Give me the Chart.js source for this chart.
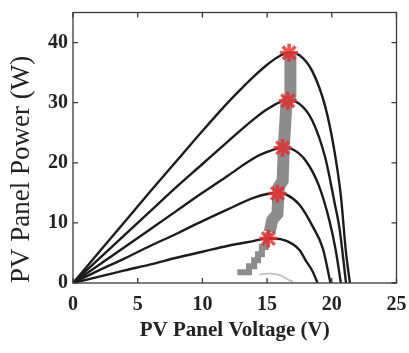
<!DOCTYPE html>
<html>
<head>
<meta charset="utf-8">
<script src="https://cdn.jsdelivr.net/npm/chart.js@4.4.1/dist/chart.umd.min.js"></script>
<style>
  html, body { margin: 0; padding: 0; background: #fff; }
  #wrap { width: 409px; height: 353px; }
</style>
</head>
<body>
<div id="wrap"><canvas id="pvChart"></canvas></div>
<script>
// ── Axis ticks ──────────────────────────────
const xTicks = [0, 5, 10, 15, 20, 25];
const yTicks = [0, 10, 20, 30, 40];

// ── P-V curves, one per irradiance level ────
const volt1 = [0, 2, 4, 6, 8, 10, 12, 13, 14, 15, 16, 16.7, 17.5, 18.5, 19.5, 20.2, 20.7, 21.1, 21.4];
const power1 = [0, 5.1, 10.2, 15.3, 20.3, 25.3, 30.1, 32.3, 34.4, 36.3, 37.8, 38.3, 37.9, 35.2, 29.3, 22, 14.5, 5, 0];

const volt2 = [0, 2, 4, 6, 8, 10, 12, 14, 15, 16, 16.6, 17.5, 18.5, 19.5, 20.2, 20.6, 21.1];
const power2 = [0, 4.0, 8.0, 12.0, 16.0, 19.8, 23.6, 27.3, 28.9, 30.1, 30.4, 29.8, 27.0, 20.8, 13.5, 9, 0];

const volt3 = [0, 2, 4, 6, 8, 10, 12, 14, 15, 16.2, 17, 18, 19, 19.8, 20.3, 20.7];
const power3 = [0, 3.0, 6.0, 9.0, 12.0, 15.0, 17.9, 20.8, 21.8, 22.5, 22.2, 20.3, 16.2, 10.5, 5.5, 0];

const volt4 = [0, 2, 4, 6, 8, 10, 12, 14, 15, 15.8, 16.5, 17.5, 18.5, 19.3, 19.9];
const power4 = [0, 2.1, 4.1, 6.2, 8.2, 10.3, 12.3, 14.2, 14.8, 15.0, 14.7, 13.0, 9.5, 5.8, 0];

const volt5 = [0, 2, 4, 6, 8, 10, 12, 14, 15, 15.5, 16.5, 17.5, 18, 18.5, 18.9];
const power5 = [0, 1.05, 2.1, 3.1, 4.2, 5.2, 6.2, 7.0, 7.4, 7.4, 7.0, 5.5, 3.7, 2.0, 0];

// faint lowest-irradiance curve
const voltFaint = [14.4, 15.2, 16.0, 16.6, 17.0];
const powerFaint = [1.4, 1.6, 1.3, 0.6, 0.2];

// ── Maximum power points ────────────────────
const mppVolt = [16.7, 16.6, 16.2, 15.8, 15.1];
const mppPower = [38.3, 30.3, 22.5, 14.9, 7.4];

// ── MPPT tracking trace ─────────────────────
const trackLowVolt = [12.7, 13.6, 13.6, 14.0, 14.0, 14.3, 14.3, 14.6, 14.6, 14.9, 14.9, 15.2];
const trackLowPower = [1.8, 1.8, 2.8, 2.8, 3.8, 3.8, 4.8, 4.8, 6.0, 6.0, 7.4, 8.5];
const trackHighVolt = [15.2, 15.4, 15.8, 15.9, 16.2, 16.3, 16.5, 16.8, 16.8];
const trackHighPower = [8.5, 10.5, 11.5, 16, 17, 23, 30, 31, 38.3];

const pts = (xs, ys) => xs.map((x, i) => ({ x, y: ys[i] }));

const curveStyle = {
    showLine: true,
    borderColor: "#1c1c1c",
    borderWidth: 2.4,
    pointRadius: 0,
    cubicInterpolationMode: "monotone",
    order: 3
};

const frameTicks = {
    id: "frameTicks",
    afterDraw(chart) {
        const { ctx, chartArea: a, scales: { x, y } } = chart;
        const len = 5;
        ctx.save();
        ctx.strokeStyle = "#3a3a3a";
        ctx.lineWidth = 1.3;
        ctx.strokeRect(a.left, a.top, a.right - a.left, a.bottom - a.top);
        ctx.beginPath();
        xTicks.forEach((v) => {
            const px = x.getPixelForValue(v);
            ctx.moveTo(px, a.bottom); ctx.lineTo(px, a.bottom - len);
            ctx.moveTo(px, a.top); ctx.lineTo(px, a.top + len);
        });
        yTicks.forEach((v) => {
            const py = y.getPixelForValue(v);
            ctx.moveTo(a.left, py); ctx.lineTo(a.left + len, py);
            ctx.moveTo(a.right, py); ctx.lineTo(a.right - len, py);
        });
        ctx.stroke();
        ctx.restore();
    }
};

const tickFont = { family: "'Liberation Serif', serif", size: 20, weight: "bold" };

new Chart(document.getElementById("pvChart"), {
    type: "scatter",
    data: {
        datasets: [
            { ...curveStyle, data: pts(volt1, power1) },
            { ...curveStyle, data: pts(volt2, power2) },
            { ...curveStyle, data: pts(volt3, power3) },
            { ...curveStyle, data: pts(volt4, power4) },
            { ...curveStyle, data: pts(volt5, power5) },
            { ...curveStyle, data: pts(voltFaint, powerFaint), borderColor: "#c4c4c4", borderWidth: 2 },
            {
                data: pts(trackLowVolt, trackLowPower),
                showLine: true,
                borderColor: "#8c8c8c",
                borderWidth: 6,
                borderJoinStyle: "miter",
                pointRadius: 0,
                tension: 0,
                order: 2
            },
            {
                data: pts(trackHighVolt, trackHighPower),
                showLine: true,
                borderColor: "#8c8c8c",
                borderWidth: 12,
                borderJoinStyle: "miter",
                pointRadius: 0,
                tension: 0,
                order: 2
            },
            {
                data: pts(mppVolt, mppPower),
                showLine: false,
                pointStyle: "star",
                pointRadius: 9,
                pointBorderWidth: 3.5,
                pointBorderColor: "rgba(232, 40, 40, 0.8)",
                pointBackgroundColor: "rgba(232, 40, 40, 0.8)",
                order: 1
            }
        ]
    },
    options: {
        responsive: true,
        maintainAspectRatio: false,
        animation: false,
        devicePixelRatio: 1,
        layout: { padding: { top: 10, right: 11, left: 0, bottom: 0 } },
        plugins: {
            legend: { display: false },
            tooltip: { enabled: false }
        },
        scales: {
            x: {
                type: "linear",
                min: 0,
                max: 25,
                afterBuildTicks: (scale) => { scale.ticks = xTicks.map((value) => ({ value })); },
                afterFit: (scale) => {
                    scale.height = 70;
                    scale.paddingLeft = 0;
                    scale.paddingRight = 0;
                },
                grid: { display: false, drawTicks: false },
                border: { display: false },
                ticks: { color: "#222", font: tickFont, padding: 10, maxRotation: 0 },
                title: {
                    display: true,
                    text: "PV Panel Voltage (V)",
                    color: "#222",
                    font: { family: "'Liberation Serif', serif", size: 21, weight: "bold" },
                    padding: { top: 0, bottom: 10 }
                }
            },
            y: {
                type: "linear",
                min: 0,
                max: 45,
                afterBuildTicks: (scale) => { scale.ticks = yTicks.map((value) => ({ value })); },
                afterFit: (scale) => {
                    scale.width = 73;
                    scale.paddingTop = 0;
                    scale.paddingBottom = 0;
                },
                grid: { display: false, drawTicks: false },
                border: { display: false },
                ticks: { color: "#222", font: tickFont, padding: 5 },
                title: {
                    display: true,
                    text: "PV Panel Power (W)",
                    align: "start",
                    color: "#222",
                    font: { family: "'Liberation Serif', serif", size: 27, weight: "normal" },
                    padding: { top: 6, bottom: 0 }
                }
            }
        }
    },
    plugins: [frameTicks]
});
</script>
</body>
</html>
